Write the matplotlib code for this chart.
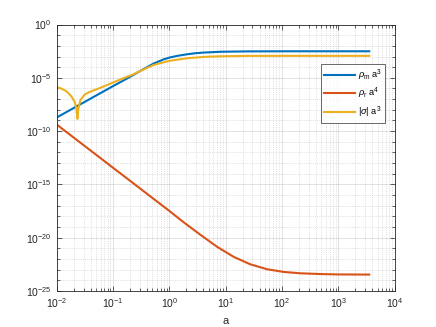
import matplotlib
matplotlib.use("Agg")
import matplotlib.pyplot as plt
from matplotlib.ticker import NullFormatter, FixedLocator, LogFormatterSciNotation

plt.rcParams['font.family'] = ['Liberation Sans', 'DejaVu Sans']
plt.rcParams['mathtext.fontset'] = 'custom'
plt.rcParams['mathtext.rm'] = 'Liberation Sans'
plt.rcParams['mathtext.it'] = 'Liberation Sans:italic'
plt.rcParams['mathtext.sf'] = 'Liberation Sans'

# ---- data ----
a_m = [0.01, 0.1, 0.178, 0.307, 0.528, 0.794, 1.0, 1.41, 2.07, 2.82, 4.07,
       8.09, 24.0, 100, 3550]
rho_m_a3 = [1.9e-9, 1.66e-6, 8.7e-6, 4.5e-5, 2.2e-4, 5.4e-4, 7.9e-4, 1.17e-3,
            1.62e-3, 2.0e-3, 2.34e-3, 2.79e-3, 3.02e-3, 3.09e-3, 3.09e-3]

a_r = [0.01, 0.1, 1.0, 1.8, 3.56, 7.06, 13.96, 27.5, 54.6, 107, 214, 500,
       1000, 3550]
rho_r_a4 = [4.17e-10, 3.7e-14, 3.3e-18, 2.8e-19, 1.9e-20, 1.41e-21, 1.58e-22,
            3.2e-23, 1.1e-23, 6.2e-24, 4.6e-24, 3.9e-24, 3.6e-24, 3.5e-24]

a_s = [0.01, 0.0121, 0.0149, 0.0182, 0.0209, 0.0224, 0.0233, 0.0243, 0.0263,
       0.0314, 0.0385, 0.058, 0.1, 0.135, 0.233, 0.307, 0.528, 1.0, 2.07,
       4.07, 8.09, 24.0, 100, 3550]
sigma_a3 = [1.38e-6, 9.8e-7, 5.5e-7, 1.86e-7, 5.5e-8, 1.32e-8, 1.4e-9, 1.32e-8,
            7.9e-8, 2.7e-7, 4.8e-7, 1.1e-6, 3.6e-6, 7.0e-6, 2.2e-5, 4.5e-5,
            1.6e-4, 3.9e-4, 6.9e-4, 9.1e-4, 1.05e-3, 1.14e-3, 1.15e-3, 1.15e-3]

x_ticks = [1e-2, 1e-1, 1e0, 1e1, 1e2, 1e3, 1e4]
y_ticks = [1e-25, 1e-20, 1e-15, 1e-10, 1e-5, 1e0]

labels = [r'$\rho_{\rm m}$ a$^3$', r'$\rho_{\rm r}$ a$^4$', r'|$\sigma$| a$^3$']
colors = ['#0072BD', '#D95319', '#EDB120']

fig = plt.figure(figsize=(4.36, 3.27), dpi=100)
ax = fig.add_axes([0.13, 0.11, 0.775, 0.815])

ax.loglog(a_m, rho_m_a3, color=colors[0], lw=1.5, label=labels[0])
ax.loglog(a_r, rho_r_a4, color=colors[1], lw=1.5, label=labels[1])
ax.loglog(a_s, sigma_a3, color=colors[2], lw=1.5, label=labels[2])

ax.set_xlim(1e-2, 1e4)
ax.set_ylim(1e-25, 1e0)

ax.xaxis.set_major_locator(FixedLocator(x_ticks))
ax.xaxis.set_major_formatter(LogFormatterSciNotation())
ax.xaxis.set_minor_locator(FixedLocator([m * t for t in x_ticks[:-1] for m in range(2, 10)]))
ax.xaxis.set_minor_formatter(NullFormatter())
ax.yaxis.set_major_locator(FixedLocator(y_ticks))
ax.yaxis.set_major_formatter(LogFormatterSciNotation())
ax.yaxis.set_minor_locator(FixedLocator([10.0**k for k in range(-25, 1) if k % 5 != 0]))
ax.yaxis.set_minor_formatter(NullFormatter())

axc = '#262626'
for s in ax.spines.values():
    s.set_color(axc)
    s.set_linewidth(0.6)
ax.tick_params(which='both', direction='in', top=True, right=True, colors=axc,
               labelsize=7.5, width=0.5)
ax.tick_params(which='major', length=3.5)
ax.tick_params(which='minor', length=2)
ax.tick_params(axis='x', pad=4)

ax.grid(True, which='major', color='#262626', alpha=0.15, lw=0.6, linestyle='-')
ax.grid(True, which='minor', color='#262626', alpha=0.25, lw=0.5, linestyle=':')
ax.set_axisbelow(True)

ax.set_xlabel('a', fontsize=8, color=axc, labelpad=4)

leg = ax.legend(loc='upper right', bbox_to_anchor=(0.9725, 0.851), fontsize=6.7,
                frameon=True, fancybox=False, handlelength=3.3,
                borderpad=0.35, labelspacing=0.35, handletextpad=0.3,
                borderaxespad=0)
leg.get_frame().set_edgecolor(axc)
leg.get_frame().set_linewidth(0.6)

fig.savefig('out.png', dpi=100)
